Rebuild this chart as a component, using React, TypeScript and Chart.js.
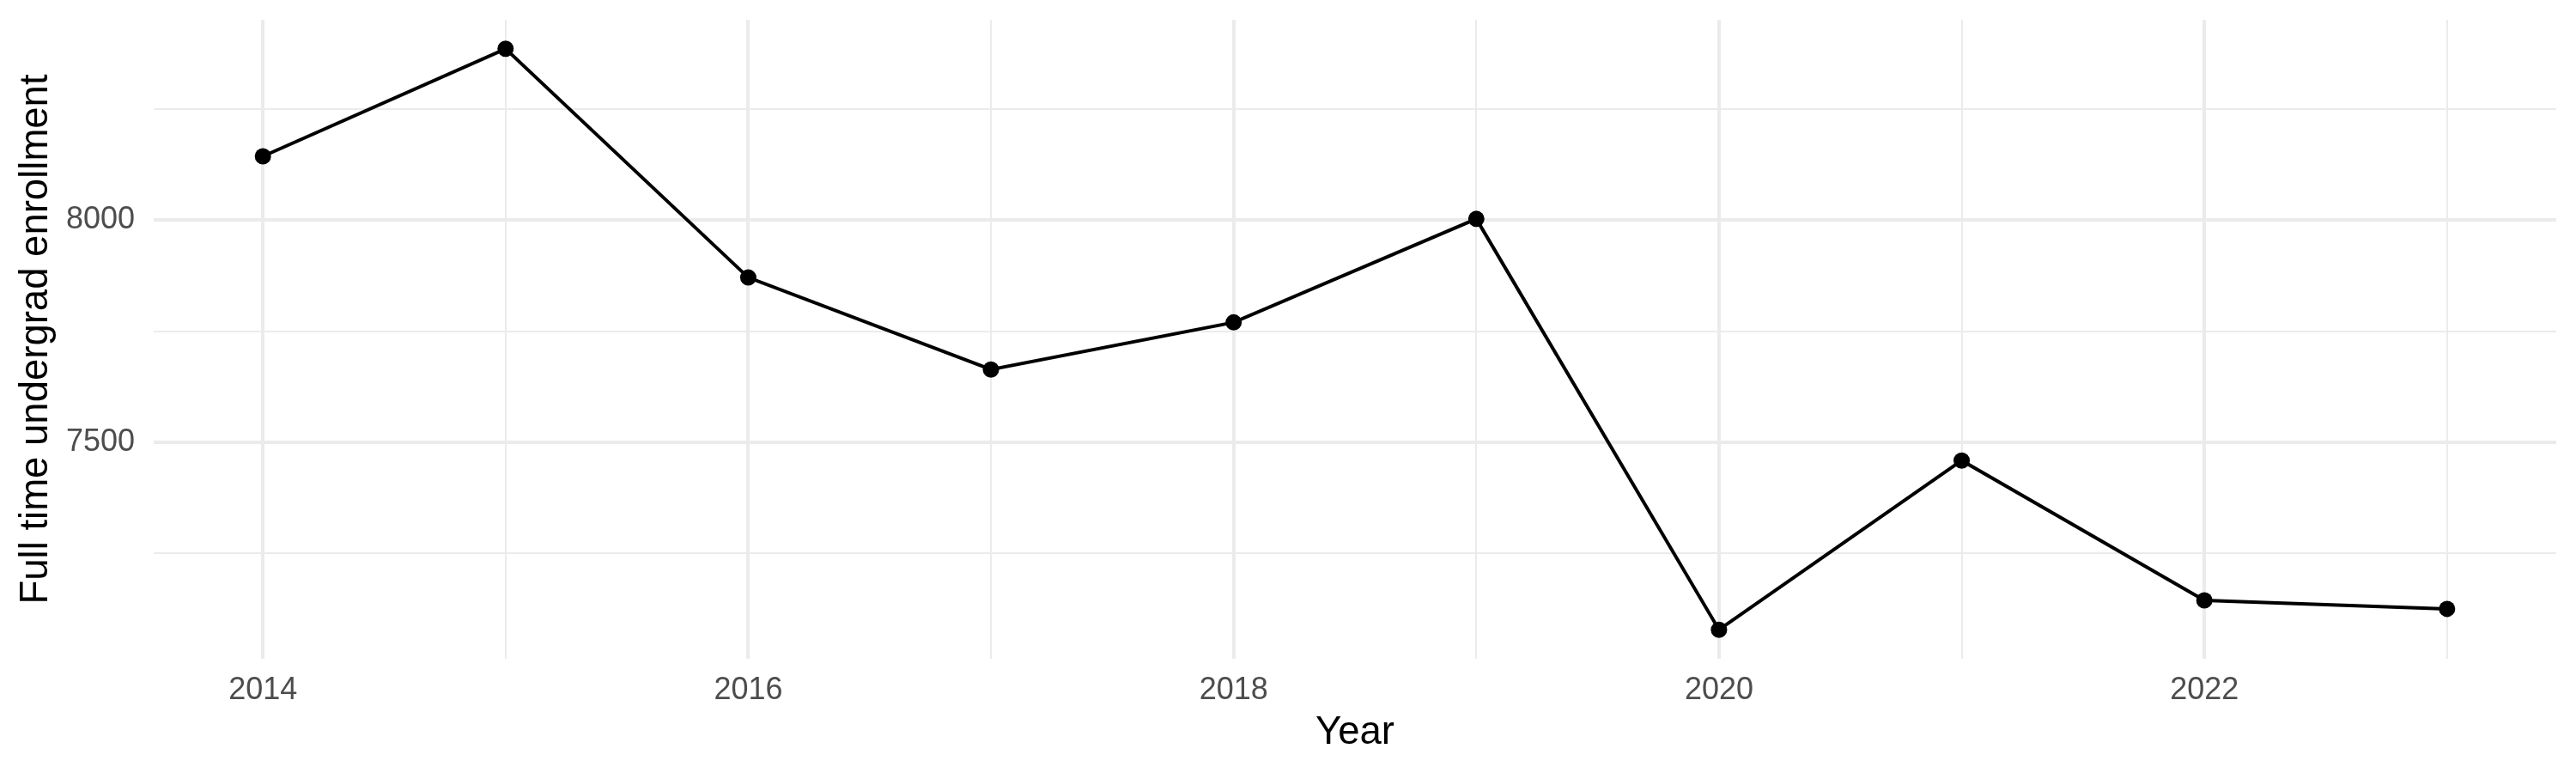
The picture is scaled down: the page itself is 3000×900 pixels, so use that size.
import { useEffect, useRef } from 'react';
import { Chart, registerables } from 'chart.js';

Chart.register(...registerables);

// values
const years = [2014, 2015, 2016, 2017, 2018, 2019, 2020, 2021, 2022, 2023];
const enrollment = [8144, 8386, 7871, 7664, 7770, 8003, 7078, 7459, 7144, 7125];

// major + minor breaks (ggplot style); only majors get a label
const xGridYears = [2014, 2015, 2016, 2017, 2018, 2019, 2020, 2021, 2022, 2023];
const xLabelYears = [2014, 2016, 2018, 2020, 2022];
const yGridValues = [7250, 7500, 7750, 8000, 8250];
const yLabelValues = [7500, 8000];

const FONT = '"Liberation Sans", Arial, Helvetica, sans-serif';
const GRID = '#EBEBEB';

export default function App() {
  const chartRef = useRef<HTMLCanvasElement>(null);
  const chartInstance = useRef<Chart | null>(null);

  useEffect(() => {
    document.body.style.margin = '0';
    if (!chartRef.current) return;
    const ctx = chartRef.current.getContext('2d');
    if (!ctx) return;

    if (chartInstance.current) {
      chartInstance.current.destroy();
    }

    chartInstance.current = new Chart(ctx, {
      type: 'line',
      data: {
        datasets: [
          {
            label: 'Full time undergrad enrollment',
            data: years.map((y, i) => ({ x: y, y: enrollment[i] })),
            borderColor: '#000000',
            backgroundColor: '#000000',
            borderWidth: 4,
            tension: 0,
            pointRadius: 9.5,
            pointBorderWidth: 0,
            pointBackgroundColor: '#000000',
          },
        ],
      },
      options: {
        animation: false,
        responsive: true,
        maintainAspectRatio: false,
        devicePixelRatio: 1,
        layout: {
          padding: { left: 0, right: 23, top: 23, bottom: 0 },
        },
        plugins: {
          legend: { display: false },
          tooltip: { enabled: false },
        },
        scales: {
          x: {
            type: 'linear',
            min: 2013.55,
            max: 2023.45,
            afterBuildTicks: (scale) => {
              scale.ticks = xGridYears.map((v) => ({ value: v }));
            },
            afterFit: (scale) => {
              scale.height = 133;
              scale.paddingLeft = 0;
              scale.paddingRight = 0;
            },
            border: { display: false },
            grid: {
              color: GRID,
              lineWidth: (c) => (xLabelYears.includes(c.tick?.value) ? 4 : 2),
              drawTicks: false,
            },
            ticks: {
              autoSkip: false,
              maxRotation: 0,
              padding: 15,
              color: '#4D4D4D',
              font: { family: FONT, size: 36 },
              callback: (v) => (xLabelYears.includes(Number(v)) ? String(v) : ''),
            },
            title: {
              display: true,
              text: 'Year',
              color: '#000000',
              font: { family: FONT, size: 45.5 },
              padding: { top: 0, bottom: 19 },
            },
          },
          y: {
            type: 'linear',
            min: 7012.6,
            max: 8451.4,
            afterBuildTicks: (scale) => {
              scale.ticks = yGridValues.map((v) => ({ value: v }));
            },
            afterFit: (scale) => {
              scale.width = 179;
              scale.paddingTop = 0;
              scale.paddingBottom = 0;
            },
            border: { display: false },
            grid: {
              color: GRID,
              lineWidth: (c) => (yLabelValues.includes(c.tick?.value) ? 4 : 2),
              drawTicks: false,
            },
            ticks: {
              autoSkip: false,
              padding: 22,
              color: '#4D4D4D',
              font: { family: FONT, size: 36 },
              callback: (v) => (yLabelValues.includes(Number(v)) ? String(v) : ''),
            },
            title: {
              display: true,
              text: 'Full time undergrad enrollment',
              color: '#000000',
              font: { family: FONT, size: 45.5 },
              padding: { top: 15, bottom: 0 },
            },
          },
        },
      },
    });

    return () => {
      if (chartInstance.current) {
        chartInstance.current.destroy();
        chartInstance.current = null;
      }
    };
  }, []);

  return (
    <div style={{ position: 'relative', width: 3000, height: 900, background: '#ffffff' }}>
      <canvas ref={chartRef} />
    </div>
  );
}
